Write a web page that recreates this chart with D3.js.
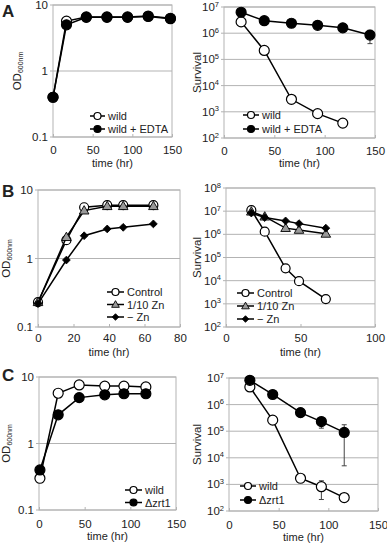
<!DOCTYPE html>
<html><head><meta charset="utf-8">
<script src="https://cdn.jsdelivr.net/npm/d3@7"></script>
<style>
body{margin:0;background:#fff;}
svg text{font-family:"Liberation Sans",Arial,sans-serif;fill:#222;}
</style></head>
<body><svg id="c" width="387" height="544"></svg>
<script>
// ---------- DATA ----------
// Panel A - OD
const aOdTime = [0, 17, 42, 68, 94, 120, 148];
const aOdWild = [0.4, 5.7, 6.6, 6.6, 6.6, 6.8, 6.3];
const aOdEdta = [0.4, 5.0, 6.5, 6.5, 6.5, 6.7, 6.2];
// Panel A - survival
const aSurvTimeWild = [17, 40, 67, 93, 118];
const aSurvWild = [2.7e6, 2.2e5, 3.0e3, 8.5e2, 3.7e2];
const aSurvTimeEdta = [17, 40, 67, 93, 118, 145];
const aSurvEdta = [6.3e6, 3.0e6, 2.4e6, 2.0e6, 1.6e6, 8.5e5];
const aSurvEdtaErr = [0, 0, 0, 0, 0, 4.5e5];
// Panel B - OD
const bOdTime = [0, 16, 26, 39, 48, 65];
const bOdControl = [0.23, 1.85, 5.6, 6.0, 6.0, 6.0];
const bOdTenthZn = [0.23, 2.05, 5.0, 5.8, 5.8, 5.8];
const bOdNoZn = [0.22, 0.95, 2.15, 2.7, 2.85, 3.2];
// Panel B - survival
const bSurvTime = [17, 26, 40, 49, 67];
const bSurvControl = [1.1e7, 1.3e6, 3.4e4, 9.5e3, 1.6e3];
const bSurvTenthZn = [9.5e6, 5.8e6, 1.85e6, 1.55e6, 1.05e6];
const bSurvNoZn = [8.3e6, 5.3e6, 3.8e6, 2.9e6, 1.85e6];
// Panel C - OD
const cOdTime = [1, 21, 44, 72, 93, 117];
const cOdWild = [0.3, 5.7, 7.6, 7.3, 7.3, 7.1];
const cOdZrt1 = [0.4, 2.7, 4.9, 5.4, 5.6, 5.6];
// Panel C - survival
const cSurvTime = [21, 44, 72, 93, 116];
const cSurvWild = [4.6e6, 2.6e5, 1.7e3, 8.2e2, 3.2e2];
const cSurvWildErr = [0, 0, 0, 5.5e2, 0];
const cSurvZrt1 = [8.2e6, 2.4e6, 5.0e5, 2.3e5, 9.0e4];
const cSurvZrt1Err = [0, 0, 0, 1.0e5, 8.5e4];
// Tick labels
const odTicks = [0.1, 1, 10];
const odTickLabels = ["0.1", "1", "10"];
const xTicks150 = [0, 50, 100, 150];
const xTicks80 = [0, 20, 40, 60, 80];
const xTicks100 = [0, 50, 100];
const survExp7 = [2, 3, 4, 5, 6, 7];
const survExp8 = [2, 3, 4, 5, 6, 7, 8];
const xTitle = "time (hr)";
const survTitle = "Survival";
const panelLetters = ["A", "B", "C"];
const LBL = ["wild", "wild + EDTA", "Control", "1/10 Zn", "\u2212 Zn", "\u0394zrt1"];

// ---------- DRAW ----------
const svg = d3.select("#c");
const GRID = "#b3b3b3";

function marker(g, type, x, y, r, fill) {
  if (type === "circle") {
    g.append("circle").attr("cx", x).attr("cy", y).attr("r", r)
      .attr("fill", fill).attr("stroke", "#000").attr("stroke-width", 1.2);
  } else if (type === "triangle") {
    const sym = d3.symbol().type(d3.symbolTriangle).size(r * r * 1.6);
    g.append("path").attr("d", sym()).attr("transform", `translate(${x},${y + 0.6})`)
      .attr("fill", fill).attr("stroke", "#000").attr("stroke-width", 0.9);
  } else if (type === "diamond") {
    const sym = d3.symbol().type(d3.symbolSquare).size(r * r * 1.5);
    g.append("path").attr("d", sym()).attr("transform", `translate(${x},${y}) rotate(45)`)
      .attr("fill", fill).attr("stroke", "#000").attr("stroke-width", 0.8);
  }
}

function panel(cfg) {
  const g = svg.append("g");
  const x = d3.scaleLinear().domain(cfg.xDomain).range([cfg.x0, cfg.x1]);
  const y = d3.scaleLog().domain(cfg.yDomain).range([cfg.y1, cfg.y0]);
  cfg.yTicks.forEach(v => {
    g.append("line").attr("x1", cfg.x0 - 3).attr("x2", cfg.x1).attr("y1", y(v)).attr("y2", y(v))
      .attr("stroke", GRID).attr("stroke-width", 1);
  });
  g.append("rect").attr("x", cfg.x0).attr("y", cfg.y0).attr("width", cfg.x1 - cfg.x0)
    .attr("height", cfg.y1 - cfg.y0).attr("fill", "none").attr("stroke", GRID).attr("stroke-width", 1);
  const xa = g.append("g").attr("transform", `translate(0,${cfg.y1})`)
    .call(d3.axisBottom(x).tickValues(cfg.xTicks).tickSize(-3).tickPadding(cfg.tp).tickFormat(d3.format("d")));
  xa.select(".domain").remove();
  xa.selectAll("line").attr("stroke", GRID);
  xa.selectAll("text").attr("font-size", 11.5).attr("fill", "#222")
    .attr("font-family", '"Liberation Sans",Arial,sans-serif');
  cfg.yTicks.forEach((v, i) => {
    const t = g.append("text").attr("x", cfg.x0 - 5).attr("y", y(v) + 4)
      .attr("text-anchor", "end").attr("font-size", 11.5);
    if (cfg.sup) {
      t.append("tspan").text("10");
      t.append("tspan").attr("dy", -4.5).attr("font-size", 7.5).text(cfg.sup[i]);
    } else {
      t.text(cfg.yLabels[i]);
    }
  });
  g.append("text").attr("x", (cfg.x0 + cfg.x1) / 2).attr("y", cfg.y1 + cfg.xtDy)
    .attr("text-anchor", "middle").attr("font-size", 11).text(xTitle);
  const yt = g.append("text").attr("transform", `translate(${cfg.ytX},${(cfg.y0 + cfg.y1) / 2}) rotate(-90)`)
    .attr("text-anchor", "middle").attr("font-size", 11.5);
  if (cfg.od) {
    yt.append("tspan").text("OD");
    yt.append("tspan").attr("font-size", 7).attr("dy", 2).text("600nm");
  } else {
    yt.text(survTitle);
  }
  const line = d3.line().x(d => x(d[0])).y(d => y(d[1]));
  cfg.series.forEach(s => {
    const pts = s.t.map((t, i) => [t, s.v[i]]);
    g.append("path").attr("d", line(pts)).attr("fill", "none").attr("stroke", "#000").attr("stroke-width", 1.5);
    if (s.err) {
      pts.forEach((p, i) => {
        const e = s.err[i];
        if (!e) return;
        const hi = y(p[1] + e), lo = y(Math.max(p[1] - e, cfg.yDomain[0]));
        const px = x(p[0]);
        g.append("line").attr("x1", px).attr("x2", px).attr("y1", hi).attr("y2", lo).attr("stroke", "#444").attr("stroke-width", 1);
        [hi, lo].forEach(yy => g.append("line").attr("x1", px - 2.5).attr("x2", px + 2.5).attr("y1", yy).attr("y2", yy)
          .attr("stroke", "#444").attr("stroke-width", 1));
      });
    }
    pts.forEach(p => marker(g, s.type, x(p[0]), y(p[1]), s.r, s.fill));
  });
  const L = cfg.legend;
  cfg.series.forEach((s, i) => {
    const yy = L.y + i * L.dy;
    g.append("line").attr("x1", L.x).attr("x2", L.x + L.w).attr("y1", yy).attr("y2", yy)
      .attr("stroke", "#000").attr("stroke-width", 1.5);
    marker(g, s.type, L.x + L.w / 2, yy, s.lr, s.fill);
    g.append("text").attr("x", L.x + L.w + 3).attr("y", yy + 4).attr("font-size", 11).text(s.name);
  });
}

panel({x0: 53, x1: 172, y0: 5, y1: 137, xDomain: [0, 150], yDomain: [0.1, 10], xTicks: xTicks150,
  yTicks: odTicks, yLabels: odTickLabels, od: true, ytX: 21, tp: 9, xtDy: 30,
  series: [
    {name: LBL[0], t: aOdTime, v: aOdWild, type: "circle", fill: "#fff", r: 5, lr: 3.5},
    {name: LBL[1], t: aOdTime, v: aOdEdta, type: "circle", fill: "#000", r: 5, lr: 3.5}],
  legend: {x: 90, y: 116, dy: 13, w: 15}});

panel({x0: 224, x1: 375, y0: 7, y1: 138, xDomain: [0, 150], yDomain: [1e2, 1e7], xTicks: xTicks150,
  yTicks: survExp7.map(e => Math.pow(10, e)), sup: survExp7, ytX: 201, tp: 9, xtDy: 29,
  series: [
    {name: LBL[0], t: aSurvTimeWild, v: aSurvWild, type: "circle", fill: "#fff", r: 5, lr: 3.5},
    {name: LBL[1], t: aSurvTimeEdta, v: aSurvEdta, type: "circle", fill: "#000", r: 5, lr: 3.5, err: aSurvEdtaErr}],
  legend: {x: 243, y: 115, dy: 14, w: 16}});

panel({x0: 38, x1: 180, y0: 190, y1: 327, xDomain: [0, 80], yDomain: [0.1, 10], xTicks: xTicks80,
  yTicks: odTicks, yLabels: odTickLabels, od: true, ytX: 10, tp: 7, xtDy: 29,
  series: [
    {name: LBL[2], t: bOdTime, v: bOdControl, type: "circle", fill: "#fff", r: 4.5, lr: 3.5},
    {name: LBL[3], t: bOdTime, v: bOdTenthZn, type: "triangle", fill: "#999", r: 5, lr: 4},
    {name: LBL[4], t: bOdTime, v: bOdNoZn, type: "diamond", fill: "#000", r: 4.5, lr: 3.8}],
  legend: {x: 107, y: 292, dy: 12.5, w: 17}});

panel({x0: 226, x1: 375, y0: 188, y1: 327, xDomain: [0, 100], yDomain: [1e2, 1e8], xTicks: xTicks100,
  yTicks: survExp8.map(e => Math.pow(10, e)), sup: survExp8, ytX: 201, tp: 7, xtDy: 29,
  series: [
    {name: LBL[2], t: bSurvTime, v: bSurvControl, type: "circle", fill: "#fff", r: 4.5, lr: 3.5},
    {name: LBL[3], t: bSurvTime, v: bSurvTenthZn, type: "triangle", fill: "#999", r: 5, lr: 4},
    {name: LBL[4], t: bSurvTime, v: bSurvNoZn, type: "diamond", fill: "#000", r: 4.5, lr: 3.8}],
  legend: {x: 237, y: 293, dy: 13, w: 17}});

panel({x0: 39, x1: 176, y0: 377, y1: 510, xDomain: [0, 150], yDomain: [0.1, 10], xTicks: xTicks150,
  yTicks: odTicks, yLabels: odTickLabels, od: true, ytX: 10, tp: 10, xtDy: 30,
  series: [
    {name: LBL[0], t: cOdTime, v: cOdWild, type: "circle", fill: "#fff", r: 5, lr: 3.5},
    {name: LBL[5], t: cOdTime, v: cOdZrt1, type: "circle", fill: "#000", r: 5, lr: 3.5}],
  legend: {x: 125, y: 490, dy: 12.5, w: 17}});

panel({x0: 229, x1: 378, y0: 378, y1: 511, xDomain: [0, 150], yDomain: [1e2, 1e7], xTicks: xTicks150,
  yTicks: survExp7.map(e => Math.pow(10, e)), sup: survExp7, ytX: 201, tp: 10, xtDy: 30,
  series: [
    {name: LBL[0], t: cSurvTime, v: cSurvWild, type: "circle", fill: "#fff", r: 5, lr: 3.5, err: cSurvWildErr},
    {name: LBL[5], t: cSurvTime, v: cSurvZrt1, type: "circle", fill: "#000", r: 5, lr: 3.5, err: cSurvZrt1Err}],
  legend: {x: 240, y: 486, dy: 14, w: 16}});

[[2, 17], [2, 197], [2, 381]].forEach((p, i) => {
  svg.append("text").attr("x", p[0]).attr("y", p[1]).attr("font-size", 17).attr("font-weight", "bold")
    .attr("fill", "#111").text(panelLetters[i]);
});
</script></body></html>
